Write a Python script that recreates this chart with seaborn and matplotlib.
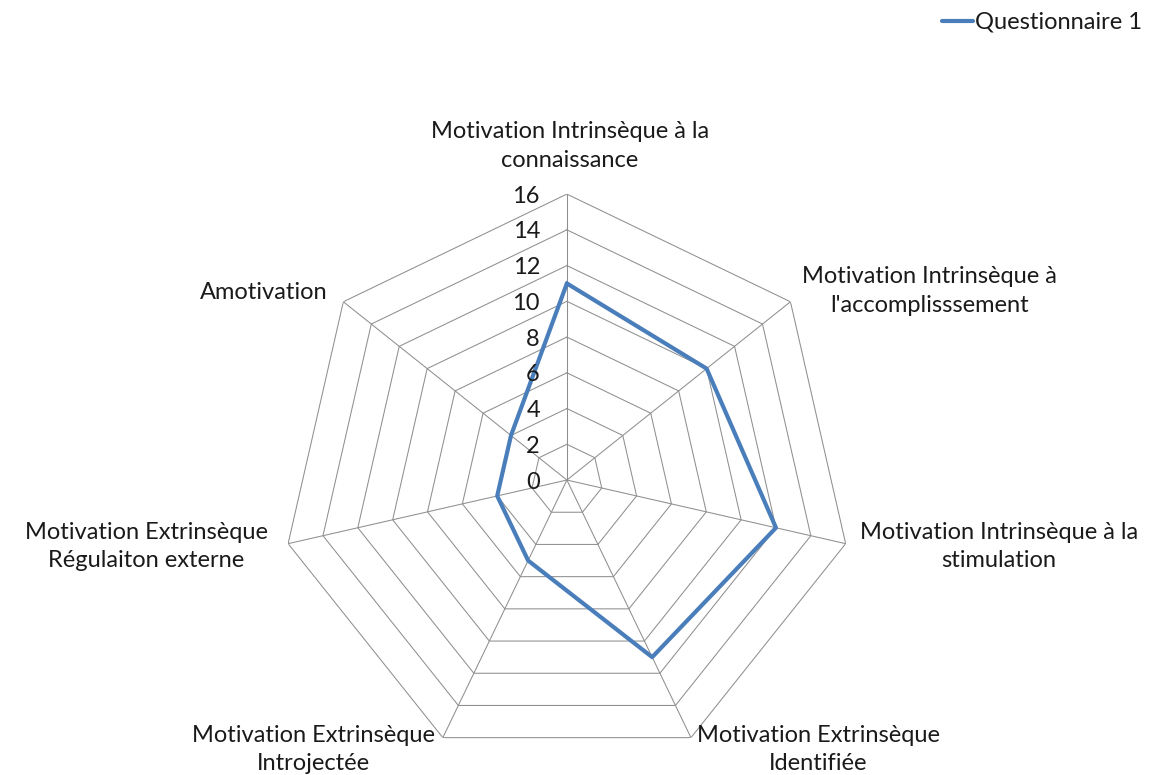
import numpy as np
import pandas as pd
import seaborn as sns
import matplotlib.pyplot as plt

# Radar data
categories = [
    "Motivation Intrinsèque à la\nconnaissance",
    "Motivation Intrinsèque à\nl'accomplisssement",
    "Motivation Intrinsèque à la\nstimulation",
    "Motivation Extrinsèque\nIdentifiée",
    "Motivation Extrinsèque\nIntrojectée",
    "Motivation Extrinsèque\nRégulaiton externe",
    "Amotivation",
]
values = [11, 10, 12, 11, 5, 4, 4]
series_name = "Questionnaire 1"
rings = [0, 2, 4, 6, 8, 10, 12, 14, 16]

sns.set_theme(style="white")
plt.rcParams['font.family'] = ['Lato', 'DejaVu Sans']

n = len(categories)
theta = np.linspace(0, 2 * np.pi, n, endpoint=False)
theta_closed = np.append(theta, 2 * np.pi)

df = pd.DataFrame({"theta": theta_closed, "value": values + values[:1]})

fig = plt.figure(figsize=(11.6, 7.75), dpi=100)
ax = fig.add_axes([0.2422, 0.0116, 0.493, 0.738], projection='polar')
ax.set_theta_offset(np.pi / 2)
ax.set_theta_direction(-1)
ax.set_ylim(0, 16)
ax.grid(False)
ax.spines['polar'].set_visible(False)

grid_col = '#8f8f8f'
# polygon rings
for r in rings[1:]:
    ax.plot(theta_closed, [r] * (n + 1), color=grid_col, lw=0.75, zorder=1)
# spokes
for t in theta:
    ax.plot([t, t], [0, 16], color=grid_col, lw=0.75, zorder=1)

sns.lineplot(data=df, x="theta", y="value", sort=False, estimator=None, ax=ax,
             color='#4a7ebb', lw=3.0, label=series_name, zorder=3)
ax.set_xlabel('')
ax.set_ylabel('')
ax.set_xticks([])
ax.set_yticks([])

txt_col = '#1a1a1a'
fs = 17

# radial tick labels
for r in rings:
    ax.annotate(str(r), xy=(0, r), xytext=(-27, -2), textcoords='offset pixels',
                ha='right', va='center', fontsize=fs, color=txt_col)

# category labels
offsets = [(3, 48), (12, 11), (14, -3), (6, -12), (-8, -12), (-20, -3), (-16, 9)]
aligns = ['center', 'left', 'left', 'left', 'right', 'right', 'right']
for t, lab, off, ha in zip(theta, categories, offsets, aligns):
    ax.annotate(lab, xy=(t, 16), xytext=off, textcoords='offset pixels',
                ha=ha, va='center', multialignment='center',
                fontsize=fs, color=txt_col, linespacing=1.45,
                annotation_clip=False)

ax.legend_.remove()
handles, labels = ax.get_legend_handles_labels()
fig.legend(handles, labels, loc='upper right', bbox_to_anchor=(1.003, 1.012),
           frameon=False, fontsize=fs, handlelength=1.3, handletextpad=0.1,
           labelcolor=txt_col)

plt.savefig('out.png', dpi=100)
